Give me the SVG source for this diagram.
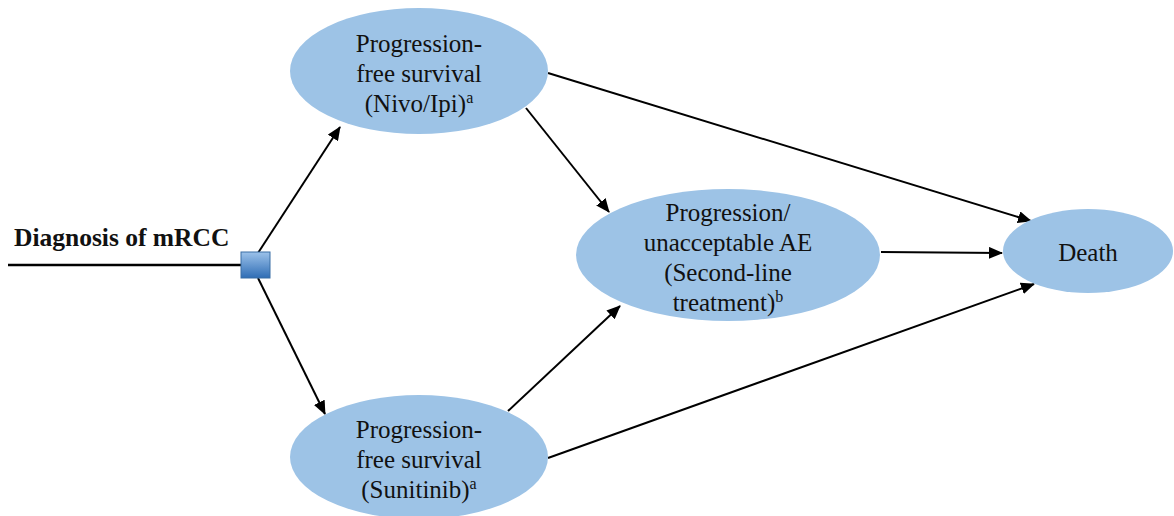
<svg xmlns="http://www.w3.org/2000/svg" width="1174" height="516" viewBox="0 0 1174 516">
<style>
.node{fill:#9dc3e6;stroke:none}
.t{font-size:25px;fill:#111;text-anchor:middle;font-weight:normal}
.sup{font-size:16px}
.edge{stroke:#000;stroke-width:2;fill:none}
</style>
<defs>
<marker id="ah" viewBox="0 0 14 12" refX="13" refY="6" markerWidth="14" markerHeight="12" markerUnits="userSpaceOnUse" orient="auto">
<path d="M0,0 L14,6 L0,12 z" fill="#000"/>
</marker>
<linearGradient id="sq" x1="0" y1="0" x2="0" y2="1">
<stop offset="0" stop-color="#9cc2ea"/>
<stop offset="1" stop-color="#2f6db5"/>
</linearGradient>
</defs>
<rect width="1174" height="516" fill="#fff"/>
<g id="connectors">
<line x1="8" y1="265" x2="242" y2="265" stroke="#000" stroke-width="2.5"/>
<line class="edge" x1="258" y1="253" x2="340" y2="127" marker-end="url(#ah)"/>
<line class="edge" x1="258" y1="278" x2="325" y2="414" marker-end="url(#ah)"/>
<line class="edge" x1="526" y1="108" x2="609" y2="212" marker-end="url(#ah)"/>
<line class="edge" x1="508" y1="411" x2="620" y2="306" marker-end="url(#ah)"/>
<line class="edge" x1="548" y1="73" x2="1031" y2="221" marker-end="url(#ah)"/>
<line class="edge" x1="881" y1="252" x2="1002" y2="253" marker-end="url(#ah)"/>
<line class="edge" x1="548" y1="458" x2="1034" y2="284" marker-end="url(#ah)"/>
</g>
<g id="start" font-family="'Liberation Serif', serif">
<text x="14" y="246" font-weight="bold" font-size="25.5" fill="#111">Diagnosis of mRCC</text>
<rect x="241" y="252" width="29" height="26" fill="url(#sq)" stroke="#3a6ea5" stroke-width="1"/>
</g>
<g id="pfs-nivo" font-family="'Liberation Serif', serif">
<ellipse class="node" cx="419" cy="71" rx="129" ry="63"/>
<text class="t" x="419" y="52">Progression-</text>
<text class="t" x="419" y="82">free survival</text>
<text class="t" x="419" y="112">(Nivo/Ipi)<tspan class="sup" dy="-9">a</tspan></text>
</g>
<g id="second-line" font-family="'Liberation Serif', serif">
<ellipse class="node" cx="728" cy="255" rx="152" ry="66"/>
<text class="t" x="728" y="221">Progression/</text>
<text class="t" x="728" y="251">unacceptable AE</text>
<text class="t" x="728" y="281">(Second-line</text>
<text class="t" x="728" y="311">treatment)<tspan class="sup" dy="-9">b</tspan></text>
</g>
<g id="pfs-sunitinib" font-family="'Liberation Serif', serif">
<ellipse class="node" cx="419" cy="457" rx="129" ry="62"/>
<text class="t" x="419" y="438">Progression-</text>
<text class="t" x="419" y="468">free survival</text>
<text class="t" x="419" y="498">(Sunitinib)<tspan class="sup" dy="-9">a</tspan></text>
</g>
<g id="death" font-family="'Liberation Serif', serif">
<ellipse class="node" cx="1088" cy="251" rx="85" ry="42"/>
<text class="t" x="1088" y="261">Death</text>
</g>
</svg>
